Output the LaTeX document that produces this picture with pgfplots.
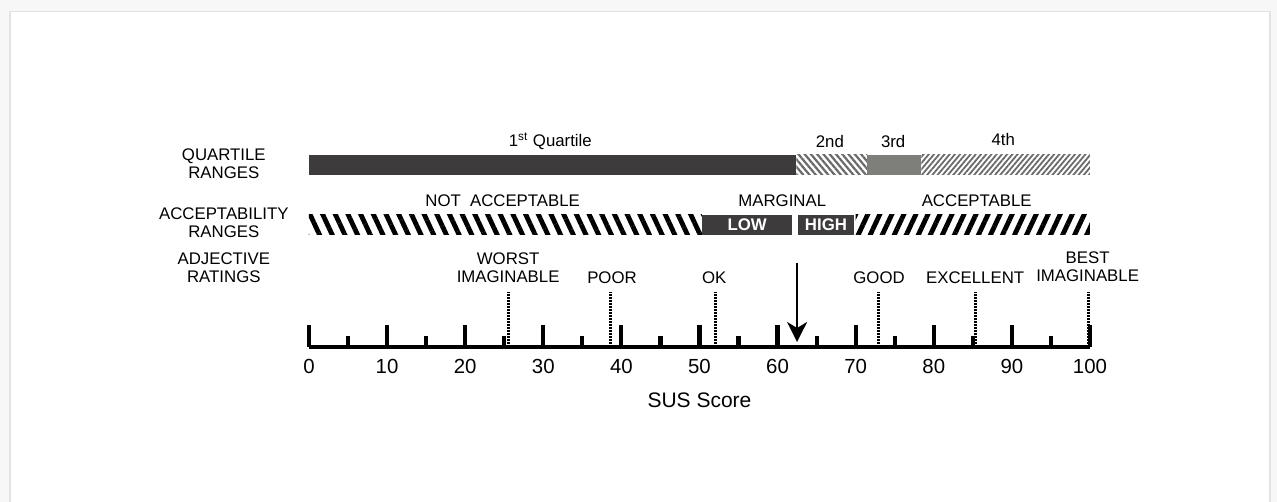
\documentclass[border=0pt]{standalone}
\usepackage{pgfplots}
\pgfplotsset{compat=1.18}
\usepackage{fontspec}
\setmainfont{Liberation Sans}
\usetikzlibrary{patterns.meta,arrows.meta}
\definecolor{DarkBar}{HTML}{3D3B3C}
\definecolor{MidBar}{HTML}{7E7E7B}
\definecolor{Hatch}{HTML}{6A6A6A}
\newcommand\lab{\fontsize{8.4}{9}\selectfont}

\begin{document}
\begin{tikzpicture}
\begin{axis}[
  set layers,
  x=3.905pt, y=0.5pt,
  xmin=0, xmax=100, ymin=0, ymax=220,
  clip=false,
  axis x line*=bottom, axis y line=none,
  axis line style={line width=1.6pt},
  xtick={0,10,...,100}, minor x tick num=1,
  tick align=inside,
  major tick length=10.8pt, minor tick length=5.3pt,
  tick style={black, line width=2.1pt},
  /pgf/number format/assume math mode=true,
  xticklabel style={font=\fontsize{10.2}{12}\selectfont, yshift=-2.5pt},
  xlabel={SUS Score},
  xlabel style={font=\fontsize{10.5}{12}\selectfont, at={(axis description cs:0.5,-0.241)}, anchor=center},
]
\begin{pgfonlayer}{axis background}
  \fill[gray!6] (axis cs:-39.56,-155) rectangle (axis cs:123.95,347);
  \fill[gray!22] (axis cs:-38.45,-155) rectangle (axis cs:123.2,335.6);
  \fill[white] (axis cs:-38.16,-155) rectangle (axis cs:122.9,335);
\end{pgfonlayer}

% quartile ranges
\addplot[fill=DarkBar, draw=none] coordinates {(0,172) (62.4,172) (62.4,192) (0,192)} -- cycle;
\addplot[draw=none, pattern={Lines[angle=-50, distance=2.4pt, line width=1.1pt]}, pattern color=Hatch]
  coordinates {(62.4,172) (71.5,172) (71.5,192) (62.4,192)} -- cycle;
\addplot[fill=MidBar, draw=none] coordinates {(71.5,172) (78.4,172) (78.4,192) (71.5,192)} -- cycle;
\addplot[draw=none, pattern={Lines[angle=50, distance=2.0pt, line width=0.9pt]}, pattern color=Hatch]
  coordinates {(78.4,172) (100,172) (100,192) (78.4,192)} -- cycle;

% acceptability ranges
\addplot[draw=none, pattern={Lines[angle=-65, distance=5.75pt, line width=2.4pt]}, pattern color=black]
  coordinates {(0,112) (50.3,112) (50.3,132) (0,132)} -- cycle;
\addplot[fill=DarkBar, draw=none] coordinates {(50.3,112) (61.9,112) (61.9,132) (50.3,132)} -- cycle;
\addplot[fill=DarkBar, draw=none] coordinates {(62.6,112) (69.8,112) (69.8,132) (62.6,132)} -- cycle;
\addplot[draw=none, pattern={Lines[angle=65, distance=5.45pt, line width=2.4pt]}, pattern color=black]
  coordinates {(70,112) (100,112) (100,132) (70,132)} -- cycle;

% adjective ratings
\addplot[ycomb, black, line width=1.5pt, dash pattern=on 1pt off 0.5pt]
  coordinates {(25.6,55) (38.6,55) (52.1,55) (72.9,55) (85.4,55) (99.8,55)};

% arrow
\addplot[black, line width=1.1pt, -{Stealth[length=10pt, width=10pt, inset=3pt]}]
  coordinates {(62.5,84) (62.5,5)};

% text
\node[align=center, font=\lab] at (axis cs:-10.9,183) {QUARTILE\\RANGES};
\node[align=center, font=\lab] at (axis cs:-10.9,124.5) {ACCEPTABILITY\\RANGES};
\node[align=center, font=\lab] at (axis cs:-10.9,79.5) {ADJECTIVE\\RATINGS};

\node[font=\lab] at (axis cs:30.9,206) {1\textsuperscript{st} Quartile};
\node[font=\lab] at (axis cs:66.7,205) {2nd};
\node[font=\lab] at (axis cs:74.8,205) {3rd};
\node[font=\lab] at (axis cs:88.9,208) {4th};

\node[font=\lab] at (axis cs:24.8,146) {NOT\hspace{0.55em}ACCEPTABLE};
\node[font=\lab] at (axis cs:60.6,146) {MARGINAL};
\node[font=\lab] at (axis cs:85.5,146) {ACCEPTABLE};
\node[font=\lab\bfseries, text=white] at (axis cs:56.1,122.5) {LOW};
\node[font=\lab\bfseries, text=white] at (axis cs:66.2,122.5) {HIGH};

\node[align=center, font=\lab] at (axis cs:25.5,79) {WORST\\IMAGINABLE};
\node[font=\lab] at (axis cs:38.8,69) {POOR};
\node[font=\lab] at (axis cs:51.9,69) {OK};
\node[font=\lab] at (axis cs:73.0,69) {GOOD};
\node[font=\lab] at (axis cs:85.3,69) {EXCELLENT};
\node[align=center, font=\lab] at (axis cs:99.7,80) {BEST\\IMAGINABLE};
\end{axis}
\end{tikzpicture}
\end{document}
